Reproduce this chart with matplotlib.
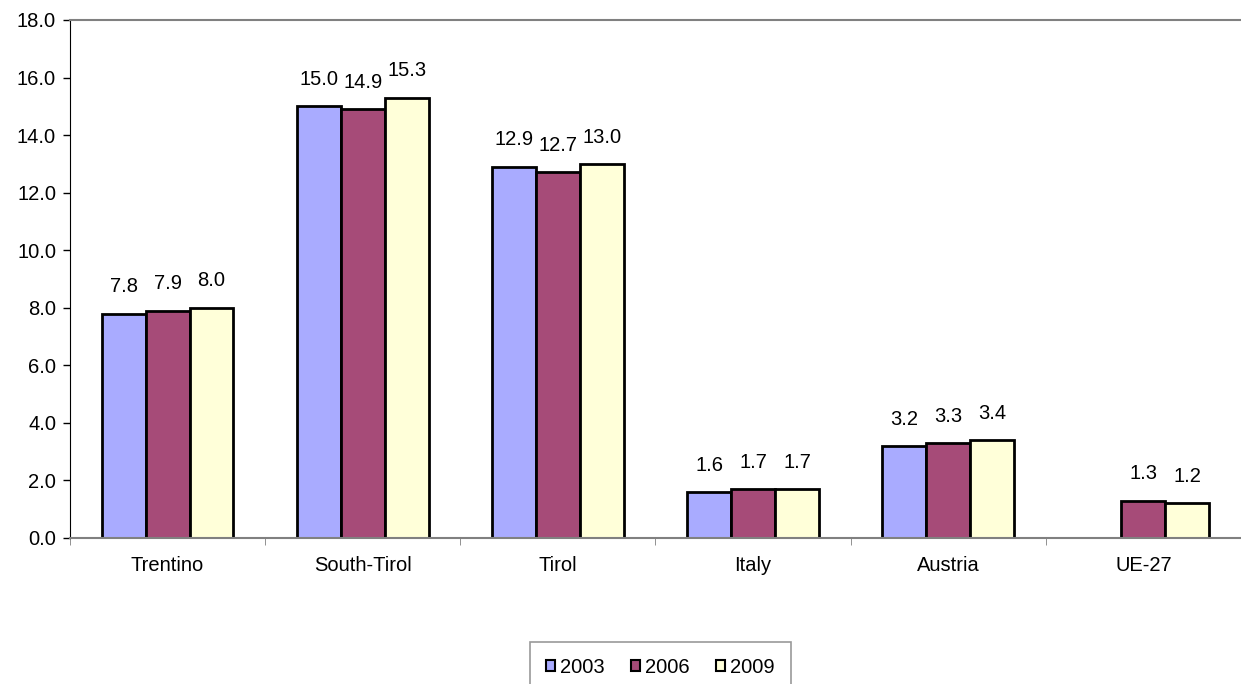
import matplotlib
matplotlib.use('Agg')
import matplotlib.pyplot as plt
import numpy as np

plt.rcParams['font.family'] = ['Liberation Sans', 'DejaVu Sans']

regions = ['Trentino', 'South-Tirol', 'Tirol', 'Italy', 'Austria', 'UE-27']
years = ['2003', '2006', '2009']
v2003 = [7.8, 15.0, 12.9, 1.6, 3.2, np.nan]
v2006 = [7.9, 14.9, 12.7, 1.7, 3.3, 1.3]
v2009 = [8.0, 15.3, 13.0, 1.7, 3.4, 1.2]
colors = ['#A9ABFF', '#A64B78', '#FFFFD9']

fs = 14.5
fig = plt.figure(figsize=(12.41, 6.84), dpi=100)
ax = fig.add_axes([0.0564, 0.2135, 0.9436, 0.7573])

x = np.arange(len(regions))
w = 0.225
handles = []
for i, (vals, c, lab) in enumerate(zip([v2003, v2006, v2009], colors, years)):
    pos = x + (i - 1) * w
    b = ax.bar(pos, vals, w, color=c, edgecolor='black', linewidth=2, label=lab)
    handles.append(b)
    for p, v in zip(pos, vals):
        if not np.isnan(v):
            ax.text(p, v + 0.6, f'{v:.1f}', ha='center', va='bottom', fontsize=fs)

ax.set_xlim(-0.5, len(regions) - 0.5)
ax.set_ylim(0, 18)
ax.set_yticks(np.arange(0, 18.1, 2))
ax.set_yticklabels([f'{t:.1f}' for t in np.arange(0, 18.1, 2)], fontsize=fs)
ax.set_xticks(x)
ax.set_xticklabels(regions, fontsize=fs)
ax.set_xticks(np.arange(-0.5, len(regions), 1), minor=True)
ax.tick_params(axis='x', which='major', length=0, pad=13)
ax.tick_params(axis='x', which='minor', length=5, color='#808080', direction='out')
ax.tick_params(axis='y', length=5, direction='out', width=1, pad=5)

ax.spines['left'].set_color('black')
ax.spines['bottom'].set_color('#808080')
ax.spines['top'].set_color('#808080')
ax.spines['right'].set_visible(False)
ax.spines['top'].set_linewidth(1.5)
ax.spines['bottom'].set_linewidth(1.5)

leg = fig.legend(handles=handles, labels=years, loc='upper center',
                 bbox_to_anchor=(0.532, 0.062), ncol=3, fontsize=fs,
                 frameon=True, fancybox=False, handlelength=0.45, handleheight=0.45,
                 handletextpad=0.25, columnspacing=1.3, borderpad=0.8,
                 borderaxespad=0)
leg.get_frame().set_edgecolor('#808080')
leg.get_frame().set_linewidth(1.2)
for h in leg.legend_handles:
    h.set_linewidth(1.5)

fig.savefig('out.png', dpi=100)
